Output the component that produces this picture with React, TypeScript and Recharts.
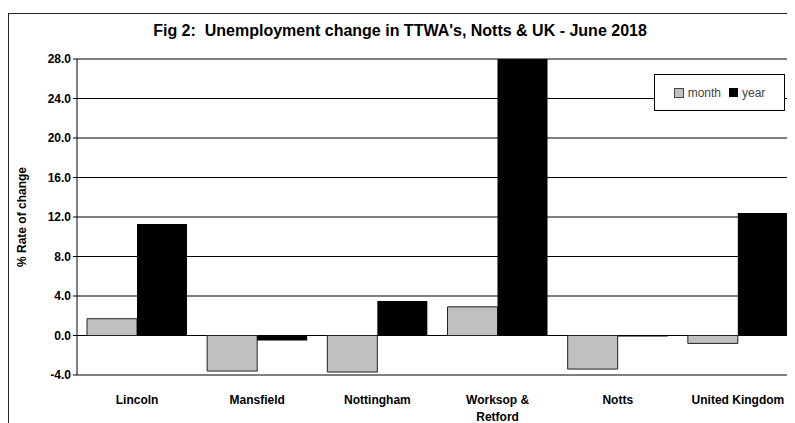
import { BarChart, Bar, XAxis, YAxis, CartesianGrid, Legend } from "recharts";

const categories = ["Lincoln", "Mansfield", "Nottingham", "Worksop & Retford", "Notts", "United Kingdom"];
const monthValues = [1.7, -3.6, -3.7, 2.9, -3.4, -0.8];
const yearValues = [11.3, -0.5, 3.5, 28.0, -0.1, 12.4];
const yTicks = [-4, 0, 4, 8, 12, 16, 20, 24, 28];

const FONT = "'Liberation Sans', Arial, sans-serif";

const data = categories.map((name, i) => ({
  name,
  month: monthValues[i],
  year: yearValues[i],
}));

// etiquetas del eje X en negrita; corta la línea después de "&"
const XTick = (props: any) => {
  const { x, y, payload } = props;
  const m = String(payload.value).match(/^(.*&)\s+(.*)$/);
  const lines = m ? [m[1], m[2]] : [String(payload.value)];
  return (
    <text x={x} y={y + 21} textAnchor="middle" fontFamily={FONT} fontSize={12}
      fontWeight="bold" fill="#000">
      {lines.map((l, i) => (
        <tspan key={i} x={x} dy={i === 0 ? 0 : 17}>{l}</tspan>
      ))}
    </text>
  );
};

const LegendBox = () => (
  <div style={{
    width: 129, height: 35, border: "1px solid #000", background: "#fff",
    display: "flex", alignItems: "center", justifyContent: "center", gap: 8,
    fontFamily: FONT, fontSize: 12, color: "#444",
  }}>
    <span style={{ display: "flex", alignItems: "center", gap: 4 }}>
      <span style={{ width: 8, height: 8, background: "#c0c0c0", border: "1px solid #444" }} />month
    </span>
    <span style={{ display: "flex", alignItems: "center", gap: 4 }}>
      <span style={{ width: 9, height: 9, background: "#000" }} />year
    </span>
  </div>
);

export default function App() {
  return (
    <div style={{ position: "relative", width: 787, height: 415, overflow: "hidden" }}>
      <div style={{
        position: "absolute", left: 0, top: 5, width: 900, height: 500,
        border: "1.5px solid #222", boxSizing: "border-box",
      }} />
      <div style={{
        position: "absolute", left: 0, width: 784, top: 14, textAlign: "center",
        fontFamily: FONT, fontSize: 16, fontWeight: "bold", whiteSpace: "pre",
      }}>
        {"Fig 2:  Unemployment change in TTWA's, Notts & UK - June 2018"}
      </div>
      <BarChart width={800} height={415} data={data}
        margin={{ top: 51, right: 10, bottom: 0, left: 18 }}
        barCategoryGap={10} barGap={0}>
        <CartesianGrid vertical={false} stroke="#000" strokeWidth={1} />
        <XAxis dataKey="name" height={48} axisLine={false} tickLine={false}
          interval={0} tick={<XTick />} />
        <YAxis domain={[-4, 28]} ticks={yTicks} allowDataOverflow width={51}
          tickFormatter={(v: number) => v.toFixed(1)} tickSize={4}
          axisLine={{ stroke: "#000" }} tickLine={{ stroke: "#000" }}
          tick={{ fontFamily: FONT, fontSize: 12, fontWeight: "bold", fill: "#000" }}
          label={{ value: "% Rate of change", angle: -90, position: "insideLeft", offset: 0,
            dx: -4, style: { fontFamily: FONT, fontSize: 12, fontWeight: "bold", fill: "#000", textAnchor: "middle" } }} />
        <Legend content={<LegendBox />} layout="horizontal" verticalAlign="middle" align="center"
          wrapperStyle={{ position: "absolute", left: 646, top: 66, width: 131 }} />
        <Bar dataKey="month" name="month" fill="#c0c0c0" stroke="#222" strokeWidth={1} isAnimationActive={false} />
        <Bar dataKey="year" name="year" fill="#000" isAnimationActive={false} />
      </BarChart>
    </div>
  );
}
